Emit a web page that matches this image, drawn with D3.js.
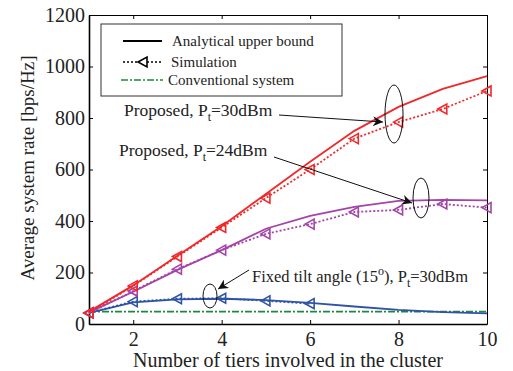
<!DOCTYPE html>
<html>
<head>
<meta charset="utf-8">
<script src="https://cdn.jsdelivr.net/npm/d3@7"></script>
<style>
body{margin:0;background:#fff;}
svg text{font-family:"Liberation Serif","Times New Roman",serif;fill:#222;}
</style>
</head>
<body>
<svg id="chart" width="513" height="371"></svg>
<script>
// ------------ données ------------
var tiers = [1,2,3,4,5,6,7,8,9,10];
var ana30 = [48,150,265,380,505,630,750,843,913,963];
var sim30 = [43,148,262,375,489,600,720,784,835,905];
var ana24 = [45,125,210,287,370,420,455,478,482,480];
var sim24 = [43,128,213,287,350,388,435,443,466,452];
var anaFix = [43,84,96,98,93,82,68,55,46,41];
var simFix = [43,87,98,100,90,79];
var conv = [48,48,48,48,48,48,48,48,48,48];
var xTicks = [2,4,6,8,10];
var yTicks = [0,200,400,600,800,1000,1200];

var rouge = "#f0282a", violet = "#a443a8", bleu = "#2f53a6", vert = "#1b8a3c";
var police = "Liberation Serif";

var svg = d3.select("#chart");
var gauche = 89, droite = 487, haut = 15, bas = 324;

var x = d3.scaleLinear().domain([1,10]).range([gauche,droite]);
var y = d3.scaleLinear().domain([0,1200]).range([bas,haut]);

//------------------ axes (ticks vers l'intérieur sur les 4 côtés) ------------------
svg.append("g").attr("transform","translate(0,"+bas+")")
    .call(d3.axisBottom(x).tickValues(xTicks).tickFormat(d3.format("d")).tickSizeInner(-4).tickSizeOuter(0).tickPadding(8))
    .call(function(g){g.select(".domain").attr("stroke-width",1.6);});
svg.append("g").attr("transform","translate("+gauche+",0)")
    .call(d3.axisLeft(y).tickValues(yTicks).tickFormat(d3.format("d")).tickSizeInner(-4).tickSizeOuter(0).tickPadding(4))
    .call(function(g){g.select(".domain").attr("stroke-width",1.6);});
svg.append("g").attr("transform","translate(0,"+haut+")")
    .call(d3.axisTop(x).tickValues(xTicks).tickSizeInner(-4).tickSizeOuter(0).tickFormat(""));
svg.append("g").attr("transform","translate("+droite+",0)")
    .call(d3.axisRight(y).tickValues(yTicks).tickSizeInner(-4).tickSizeOuter(0).tickFormat(""));
svg.selectAll("g").attr("font-family",police);
svg.selectAll(".tick text").style("font-size","20px").attr("fill","#222");

svg.append("text").attr("x",288).attr("y",367).attr("text-anchor","middle")
    .style("font-size","20px").text("Number of tiers involved in the cluster");
svg.append("text").attr("transform","translate(34,168) rotate(-90)").attr("text-anchor","middle")
    .style("font-size","19px").text("Average system rate [bps/Hz]");

//------------------ courbes ------------------
function tracer(vals, couleur, pointille, marqueurs){
    var ligne = d3.line().x(function(d,i){return x(tiers[i]);}).y(function(d){return y(d);});
    svg.append("path").datum(vals).attr("d",ligne).attr("fill","none")
        .attr("stroke",couleur).attr("stroke-width",1.8)
        .attr("stroke-dasharray",pointille);
    if(marqueurs){
        svg.selectAll(null).data(vals).enter().append("path")
            .attr("d",function(d,i){
                var cx=x(tiers[i]), cy=y(d);
                return "M"+(cx-5)+","+cy+" L"+(cx+4)+","+(cy-5)+" L"+(cx+4)+","+(cy+5)+"Z";
            })
            .attr("fill","none").attr("stroke",couleur).attr("stroke-width",1.6);
    }
}
tracer(conv, vert, "7,2,2,2", false);
tracer(anaFix, bleu, null, false);
tracer(simFix, bleu, "2,2", true);
tracer(ana24, violet, null, false);
tracer(sim24, violet, "2,2", true);
tracer(ana30, rouge, null, false);
tracer(sim30, rouge, "2,2", true);

//------------------ légende ------------------
svg.append("rect").attr("x",101).attr("y",24).attr("width",241).attr("height",72)
    .attr("fill","#fff").attr("stroke","#333").attr("stroke-width",1);
svg.append("line").attr("x1",123).attr("x2",162).attr("y1",41).attr("y2",41).attr("stroke","#000").attr("stroke-width",1.8);
svg.append("line").attr("x1",123).attr("x2",162).attr("y1",62).attr("y2",62).attr("stroke","#000").attr("stroke-width",1.6).attr("stroke-dasharray","2,2");
svg.append("path").attr("d","M138,62 L147,57 L147,67Z").attr("fill","#fff").attr("stroke","#000").attr("stroke-width",1.6);
svg.append("line").attr("x1",121).attr("x2",163).attr("y1",80).attr("y2",80).attr("stroke",vert).attr("stroke-width",1.6).attr("stroke-dasharray","7,2,2,2");
var legTextes = [["Analytical upper bound",172,46],["Simulation",171,67],["Conventional system",168,85]];
legTextes.forEach(function(t){
    svg.append("text").attr("x",t[1]).attr("y",t[2]).style("font-size","15px").text(t[0]);
});

//------------------ annotations ------------------
svg.append("defs").append("marker").attr("id","fleche").attr("viewBox","0 0 10 10")
    .attr("refX",10).attr("refY",5).attr("markerWidth",14).attr("markerHeight",10)
    .attr("markerUnits","userSpaceOnUse").attr("orient","auto")
    .append("path").attr("d","M0,0 L10,5 L0,10 L3,5Z").attr("fill","#111");

function annot(tx,ty,taille,morceaux){
    var t = svg.append("text").attr("x",tx).attr("y",ty).style("font-size",taille+"px");
    morceaux.forEach(function(m){
        t.append("tspan").attr("dy",m[1]).style("font-size",(m[2]?12:taille)+"px").text(m[0]);
    });
}
annot(124,116,17.5,[["Proposed, P",0],["t",5,1],["=30dBm",-5]]);
annot(119,156,17.5,[["Proposed, P",0],["t",5,1],["=24dBm",-5]]);
annot(252,282,16.5,[["Fixed tilt angle (15",0],["o",-7,1],["), P",7],["t",5,1],["=30dBm",-5]]);

function fleche(x1,y1,x2,y2){
    svg.append("line").attr("x1",x1).attr("y1",y1).attr("x2",x2).attr("y2",y2)
        .attr("stroke","#111").attr("stroke-width",1).attr("marker-end","url(#fleche)");
}
fleche(279,115,383,122);
fleche(274,157,412,203);
fleche(249,270,218,289);

function ellipse(cx,cy,rx,ry){
    svg.append("ellipse").attr("cx",cx).attr("cy",cy).attr("rx",rx).attr("ry",ry)
        .attr("fill","none").attr("stroke","#111").attr("stroke-width",1);
}
ellipse(394,114,9,29);
ellipse(421,198,8,20);
ellipse(210,296,7,12);
</script>
</body>
</html>
